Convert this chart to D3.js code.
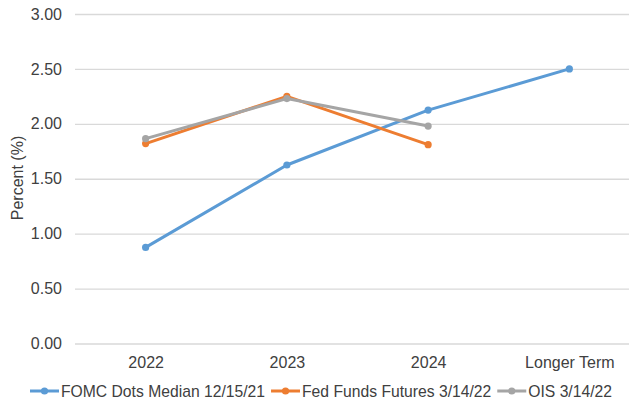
<!DOCTYPE html>
<html>
<head>
<meta charset="utf-8">
<script src="https://cdn.jsdelivr.net/npm/d3@7"></script>
<style>
  html, body { margin: 0; padding: 0; background: #fff; overflow: hidden; }
  svg { display: block; font-family: "Liberation Sans", Arial, sans-serif; }
</style>
</head>
<body>
<svg id="chart" width="629" height="404"></svg>
<script>
// Policy rate path projections by horizon
const categories = ["2022", "2023", "2024", "Longer Term"];
const fomcDots = [0.875, 1.625, 2.125, 2.5];
const fedFundsFutures = [1.82, 2.25, 1.81];
const ois = [1.865, 2.23, 1.98];
const yTicks = [0, 0.5, 1, 1.5, 2, 2.5, 3];

const seriesNames = ["FOMC Dots Median 12/15/21", "Fed Funds Futures 3/14/22", "OIS 3/14/22"];
const seriesColors = ["#5B9BD5", "#ED7D31", "#A5A5A5"];

const series = [fomcDots, fedFundsFutures, ois].map((vals, i) => ({
  name: seriesNames[i],
  color: seriesColors[i],
  points: vals.map((v, j) => ({ cat: categories[j], value: v }))
}));

const svg = d3.select("#chart");
const textColor = "#404040";
const plot = { left: 75, right: 640, top: 14, bottom: 343.5 };

const x = d3.scalePoint().domain(categories).range([plot.left, plot.right]).padding(0.5);
const y = d3.scaleLinear().domain([0, 3]).range([plot.bottom, plot.top]);

// Horizontal gridlines
const grid = svg.append("g")
  .attr("transform", `translate(${plot.left},0)`)
  .call(d3.axisLeft(y).tickValues(yTicks).tickSize(-(plot.right - plot.left)).tickFormat(""));
grid.select(".domain").remove();
grid.selectAll("line").attr("stroke", "#D9D9D9").attr("stroke-width", 1.3);

// Y axis labels
const yAxis = svg.append("g")
  .attr("transform", `translate(${plot.left},0)`)
  .call(d3.axisLeft(y).tickValues(yTicks).tickSize(0).tickPadding(13).tickFormat(d3.format(".2f")));
yAxis.select(".domain").remove();
yAxis.selectAll("text").attr("fill", textColor).style("font-size", "16px")
  .style("font-family", "'Liberation Sans', Arial, sans-serif");

// X axis labels
const xAxis = svg.append("g")
  .attr("transform", `translate(0,${plot.bottom})`)
  .call(d3.axisBottom(x).tickSize(0).tickPadding(13));
xAxis.select(".domain").remove();
xAxis.selectAll("text").attr("fill", textColor).style("font-size", "16px")
  .style("font-family", "'Liberation Sans', Arial, sans-serif");

// Y axis title
svg.append("text")
  .attr("transform", "translate(23,178) rotate(-90)")
  .attr("text-anchor", "middle")
  .attr("fill", textColor)
  .style("font-size", "16px")
  .text("Percent (%)");

// Series lines and markers
const line = d3.line().x(d => x(d.cat)).y(d => y(d.value));
series.forEach(s => {
  const g = svg.append("g");
  g.append("path")
    .datum(s.points)
    .attr("d", line)
    .attr("fill", "none")
    .attr("stroke", s.color)
    .attr("stroke-width", 3)
    .attr("stroke-linejoin", "round")
    .attr("stroke-linecap", "round");
  g.selectAll("circle")
    .data(s.points)
    .join("circle")
    .attr("cx", d => x(d.cat))
    .attr("cy", d => y(d.value))
    .attr("r", 3.6)
    .attr("fill", s.color);
});

// Legend
const legend = svg.append("g").attr("transform", "translate(30,391)");
let lx = 0;
series.forEach(s => {
  const item = legend.append("g").attr("transform", `translate(${lx},0)`);
  item.append("line")
    .attr("x1", 0).attr("x2", 29).attr("y1", 0).attr("y2", 0)
    .attr("stroke", s.color).attr("stroke-width", 3);
  item.append("circle").attr("cx", 14.5).attr("cy", 0).attr("r", 3.6).attr("fill", s.color);
  const t = item.append("text")
    .attr("x", 31)
    .attr("y", 0)
    .attr("dy", "0.35em")
    .attr("fill", textColor)
    .style("font-size", "15.7px")
    .text(s.name);
  lx += 31 + t.node().getComputedTextLength() + 6;
});
</script>
</body>
</html>
